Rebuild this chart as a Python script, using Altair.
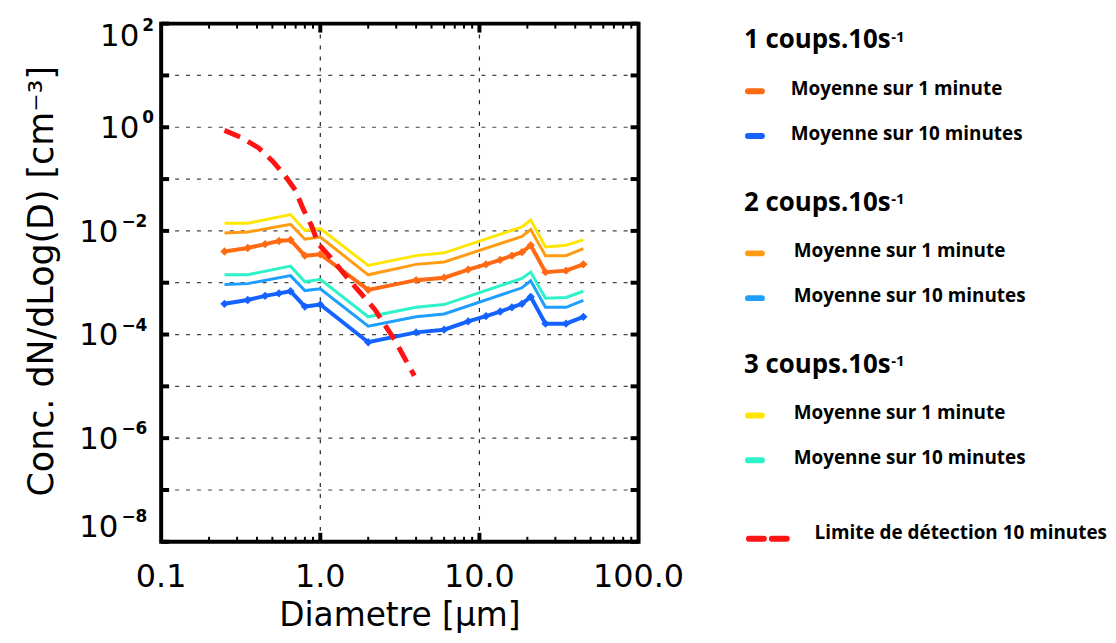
import altair as alt
import pandas as pd

# ---------------- data ----------------
x_full = [0.25, 0.35, 0.45, 0.55, 0.65, 0.8, 1.0, 2.0, 4.0, 6.0, 8.5, 11, 13.5, 16, 18.5, 21, 26, 35, 45]
x_vert = [0.25, 0.35, 0.65, 0.8, 1.0, 2.0, 4.0, 6.0, 18.5, 21, 26, 35, 45]

y_c1_1min = [4.0e-3, 4.68e-3, 5.55e-3, 6.38e-3, 6.68e-3, 3.33e-3, 3.54e-3, 7.28e-4, 1.12e-3, 1.25e-3,
             1.79e-3, 2.26e-3, 2.76e-3, 3.33e-3, 3.88e-3, 5.3e-3, 1.6e-3, 1.71e-3, 2.26e-3]
y_c1_10min = [3.92e-4, 4.64e-4, 5.58e-4, 6.23e-4, 6.84e-4, 3.46e-4, 3.79e-4, 7.1e-5, 1.1e-4, 1.24e-4,
              1.8e-4, 2.27e-4, 2.78e-4, 3.35e-4, 3.92e-4, 5.33e-4, 1.62e-4, 1.62e-4, 2.2e-4]
y_c2_1min = [9.1e-3, 9.5e-3, 1.34e-2, 6.9e-3, 7.6e-3, 1.42e-3, 2.26e-3, 2.51e-3, 7.8e-3, 1.06e-2, 3.33e-3, 3.33e-3, 4.54e-3]
y_c2_10min = [9.2e-4, 9.6e-4, 1.37e-3, 7.05e-4, 7.6e-4, 1.45e-4, 2.2e-4, 2.49e-4, 7.98e-4, 1.09e-3, 3.35e-4, 3.35e-4, 4.57e-4]
y_c3_1min = [1.41e-2, 1.41e-2, 2.07e-2, 1.02e-2, 1.11e-2, 2.15e-3, 3.33e-3, 3.77e-3, 1.19e-2, 1.62e-2, 4.9e-3, 5.3e-3, 6.7e-3]
y_c3_10min = [1.42e-3, 1.42e-3, 2.09e-3, 1.04e-3, 1.16e-3, 2.2e-4, 3.35e-4, 3.79e-4, 1.21e-3, 1.6e-3, 5.0e-4, 5.18e-4, 6.84e-4]

x_limit = [0.25, 0.32, 0.41, 0.5, 0.6, 0.7, 0.78, 0.88, 0.97, 1.18, 1.51, 2.2, 2.93, 3.9]
y_limit = [0.87, 0.63, 0.40, 0.224, 0.116, 0.06, 0.0265, 0.0127, 0.00565, 0.0029, 0.00115, 3.05e-4, 7.9e-5, 1.6e-5]

x_tick_values = [0.1, 1, 10, 100]
x_tick_labels = ["0.1", "1.0", "10.0", "100.0"]
x_grid = [1, 10]
x_minor = [0.2, 0.3, 0.4, 0.5, 0.6, 0.7, 0.8, 0.9, 2, 3, 4, 5, 6, 7, 8, 9, 20, 30, 40, 50, 60, 70, 80, 90]
y_decades = [1e2, 1e1, 1e0, 1e-1, 1e-2, 1e-3, 1e-4, 1e-5, 1e-6, 1e-7, 1e-8]
y_label_values = [1e2, 1e0, 1e-2, 1e-4, 1e-6, 1e-8]
y_label_exps = ["2", "0", "\u22122", "\u22124", "\u22126", "\u22128"]
y_label_pos = ["top", "mid", "mid", "mid", "mid", "bottom"]

legend_groups = ["1 coups.10s", "2 coups.10s", "3 coups.10s"]
legend_items = ["Moyenne sur 1 minute", "Moyenne sur 10 minutes"]
legend_limit = "Limite de détection 10 minutes"

C_DORANGE = "#FF6A12"
C_BLUE = "#1462FF"
C_ORANGE = "#FF9C14"
C_LBLUE = "#1E9EFF"
C_YELLOW = "#FFE600"
C_AQUA = "#2EF2C8"
C_RED = "#FF1414"

W, H = 480, 521
xs = alt.Scale(type="log", domain=[0.1, 100], nice=False)
ys = alt.Scale(type="log", domain=[1e-8, 1e2], nice=False)
AX_FONT = "DejaVu Sans"
LG_FONT = "Open Sans"


def series(xv, yv, color, width, points=False, dash=None):
    df = pd.DataFrame({"x": xv, "y": yv})
    kw = dict(color=color, strokeWidth=width, clip=True)
    if dash:
        kw["strokeDash"] = dash
    if points:
        kw["point"] = alt.OverlayMarkDef(shape="diamond", size=70, filled=True, color=color)
    return alt.Chart(df).mark_line(**kw).encode(
        x=alt.X("x:Q", scale=xs, axis=None),
        y=alt.Y("y:Q", scale=ys, axis=None),
    )


# grid
gx = alt.Chart(pd.DataFrame({"v": x_grid})).mark_rule(color="#222", strokeWidth=1.2, strokeDash=[4, 7]).encode(
    x=alt.X("v:Q", scale=xs, axis=None))
gy = alt.Chart(pd.DataFrame({"v": y_decades[1:-1]})).mark_rule(color="#444", strokeWidth=1.2, strokeDash=[4, 7]).encode(
    y=alt.Y("v:Q", scale=ys, axis=None))

# inward ticks
tdf_min = pd.DataFrame({"v": x_minor})
tdf_maj = pd.DataFrame({"v": x_grid})
tdf_y = pd.DataFrame({"v": y_decades})
ticks = [
    alt.Chart(tdf_min).mark_rule(color="black", strokeWidth=2).encode(
        x=alt.X("v:Q", scale=xs, axis=None), y=alt.value(H), y2=alt.value(H - 5)),
    alt.Chart(tdf_min).mark_rule(color="black", strokeWidth=2).encode(
        x=alt.X("v:Q", scale=xs, axis=None), y=alt.value(0), y2=alt.value(5)),
    alt.Chart(tdf_maj).mark_rule(color="black", strokeWidth=4).encode(
        x=alt.X("v:Q", scale=xs, axis=None), y=alt.value(H), y2=alt.value(H - 9)),
    alt.Chart(tdf_maj).mark_rule(color="black", strokeWidth=4).encode(
        x=alt.X("v:Q", scale=xs, axis=None), y=alt.value(0), y2=alt.value(9)),
    alt.Chart(tdf_y).mark_rule(color="black", strokeWidth=4).encode(
        y=alt.Y("v:Q", scale=ys, axis=None), x=alt.value(0), x2=alt.value(8)),
    alt.Chart(tdf_y).mark_rule(color="black", strokeWidth=4).encode(
        y=alt.Y("v:Q", scale=ys, axis=None), x=alt.value(W), x2=alt.value(W - 8)),
]

# frame
frame = alt.Chart(pd.DataFrame({"v": [0]})).mark_rect(
    fill=None, stroke="black", strokeWidth=4, fillOpacity=0).encode(
    x=alt.value(0), x2=alt.value(W), y=alt.value(0), y2=alt.value(H))

# x tick labels
xl = alt.Chart(pd.DataFrame({"v": x_tick_values, "t": x_tick_labels})).mark_text(
    font=AX_FONT, fontSize=32, color="black", baseline="middle", align="center").encode(
    x=alt.X("v:Q", scale=xs, axis=None), y=alt.value(556), text="t:N")

# y tick labels
ydf = pd.DataFrame({"v": y_label_values, "e": y_label_exps, "p": y_label_pos})
ylabel_layers = []
for pos, dy in [("top", 13), ("mid", 2), ("bottom", -14)]:
    sub = alt.Chart(ydf).transform_filter(alt.datum.p == pos)
    for neg in (False, True):
        cond = "indexof(datum.e, '\u2212') >= 0" if neg else "indexof(datum.e, '\u2212') < 0"
        base = sub.transform_filter(cond)
        x10 = -43 if neg else -22
        ylabel_layers.append(base.mark_text(font=AX_FONT, fontSize=31, color="black", align="right",
                                            baseline="middle", dy=dy).encode(
            y=alt.Y("v:Q", scale=ys, axis=None), x=alt.value(x10), text=alt.value("10")))
        ylabel_layers.append(base.mark_text(font=AX_FONT, fontSize=17, fontWeight="bold", color="black",
                                            align="left", baseline="middle", dy=dy - 11).encode(
            y=alt.Y("v:Q", scale=ys, axis=None), x=alt.value(x10 + 3), text="e:N"))

# axis titles
ytitle = alt.Chart(pd.DataFrame({"t": ["Conc.  dN/dLog(D)  [cm\u207b\u00b3]"]})).mark_text(
    font=AX_FONT, fontSize=35, angle=270, align="center", baseline="middle", color="black").encode(
    x=alt.value(-120), y=alt.value(259), text="t:N")
xtitle = alt.Chart(pd.DataFrame({"t": ["Diametre [\u03bcm]"]})).mark_text(
    font=AX_FONT, fontSize=33, align="center", baseline="alphabetic", color="black").encode(
    x=alt.value(W / 2), y=alt.value(606), text="t:N")

# legend
LX = 586
leg = []
group_tops = [25, 188, 351]
item_colors = [(C_DORANGE, C_BLUE), (C_ORANGE, C_LBLUE), (C_YELLOW, C_AQUA)]
item_x = [633, 636, 636]
for gi, g in enumerate(legend_groups):
    yb = group_tops[gi]
    leg.append(alt.Chart(pd.DataFrame({"t": [g]})).mark_text(
        font=LG_FONT, fontSize=26, fontWeight="bold", align="left", baseline="alphabetic", color="black").encode(
        x=alt.value(LX), y=alt.value(yb), text="t:N"))
    leg.append(alt.Chart(pd.DataFrame({"t": ["-1"]})).mark_text(
        font=LG_FONT, fontSize=15, fontWeight="bold", align="left", baseline="top", color="black").encode(
        x=alt.value(LX + 148), y=alt.value(yb - 19), text="t:N"))
    for ii, it in enumerate(legend_items):
        yc = yb + 41 + ii * 45
        leg.append(alt.Chart(pd.DataFrame({"t": [it]})).mark_text(
            font=LG_FONT, fontSize=19, fontWeight="bold", align="left", baseline="middle", color="black").encode(
            x=alt.value(item_x[gi]), y=alt.value(yc), text="t:N"))
        leg.append(alt.Chart(pd.DataFrame({"t": [it]})).mark_rule(
            color=item_colors[gi][ii], strokeWidth=6, strokeCap="round").encode(
            x=alt.value(LX + 4), x2=alt.value(LX + 18), y=alt.value(yc + 2)))

leg.append(alt.Chart(pd.DataFrame({"t": [legend_limit]})).mark_text(
    font=LG_FONT, fontSize=19, fontWeight="bold", align="left", baseline="middle", color="black").encode(
    x=alt.value(657), y=alt.value(512), text="t:N"))
leg.append(alt.Chart(pd.DataFrame({"t": [legend_limit]})).mark_rule(
    color=C_RED, strokeWidth=6, strokeCap="round", strokeDash=[15, 8]).encode(
    x=alt.value(LX + 5), x2=alt.value(LX + 43), y=alt.value(518)))

lines = [
    series(x_vert, y_c3_1min, C_YELLOW, 3),
    series(x_vert, y_c2_1min, C_ORANGE, 3),
    series(x_vert, y_c3_10min, C_AQUA, 3),
    series(x_vert, y_c2_10min, C_LBLUE, 3),
    series(x_full, y_c1_1min, C_DORANGE, 4, points=True),
    series(x_full, y_c1_10min, C_BLUE, 4, points=True),
    series(x_limit, y_limit, C_RED, 5, dash=[17, 9]),
]

chart = alt.layer(gx, gy, *ticks, *lines, frame, xl, *ylabel_layers, ytitle, xtitle, *leg).properties(
    width=W, height=H,
    padding={"left": 154, "top": 14, "right": 472, "bottom": 92},
    autosize=alt.AutoSizeParams(type="none"),
    background="white",
).configure_view(stroke=None)

chart.save("out.html", embed_options={"renderer": "svg", "actions": False})
